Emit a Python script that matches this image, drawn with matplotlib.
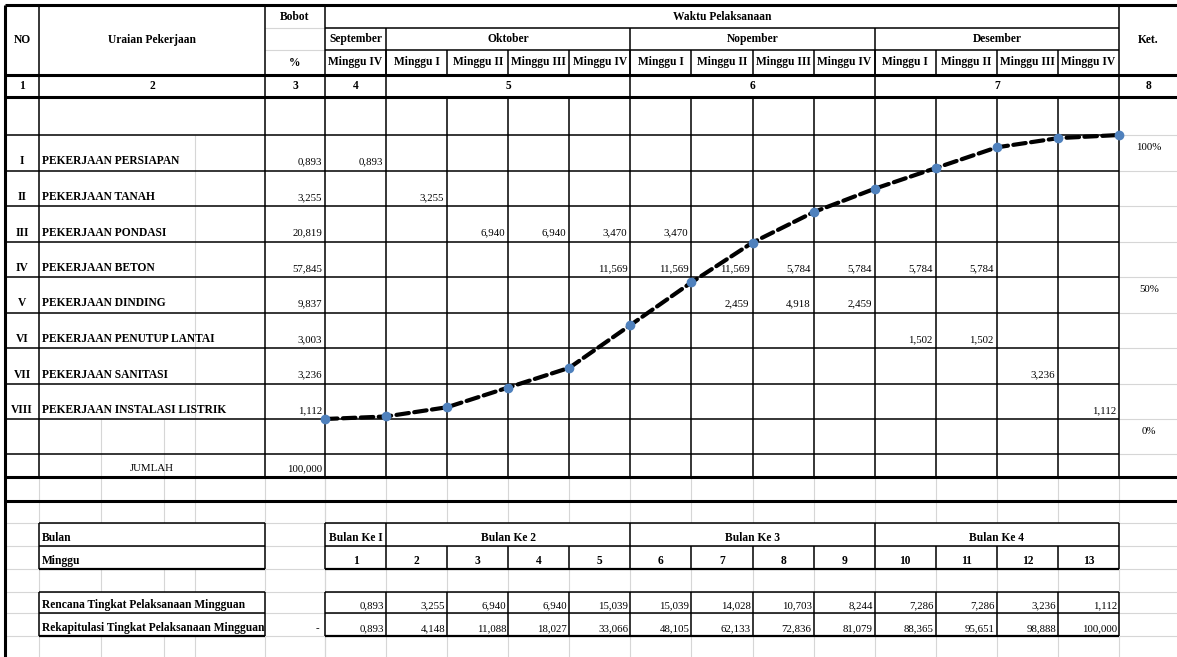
import matplotlib
matplotlib.use('Agg')
import matplotlib.pyplot as plt
import matplotlib.transforms as mtransforms
import numpy as np

plt.rcParams['font.family'] = ['Liberation Serif', 'DejaVu Serif']

# ---------------- data ----------------
no_romawi = ['I', 'II', 'III', 'IV', 'V', 'VI', 'VII', 'VIII']
uraian = ['PEKERJAAN PERSIAPAN', 'PEKERJAAN TANAH', 'PEKERJAAN PONDASI',
          'PEKERJAAN BETON', 'PEKERJAAN DINDING', 'PEKERJAAN PENUTUP LANTAI',
          'PEKERJAAN SANITASI', 'PEKERJAAN INSTALASI LISTRIK']
bobot = [0.893, 3.255, 20.819, 57.845, 9.837, 3.003, 3.236, 1.112]
jumlah_bobot = 100.000

# bobot per minggu untuk tiap pekerjaan {minggu ke: nilai}
jadwal = [
    {1: 0.893},
    {2: 3.255},
    {3: 6.940, 4: 6.940, 5: 3.470, 6: 3.470},
    {5: 11.569, 6: 11.569, 7: 11.569, 8: 5.784, 9: 5.784, 10: 5.784, 11: 5.784},
    {7: 2.459, 8: 4.918, 9: 2.459},
    {10: 1.502, 11: 1.502},
    {12: 3.236},
    {13: 1.112},
]

bulan = ['September', 'Oktober', 'Nopember', 'Desember']
bulan_ke = ['Bulan Ke I', 'Bulan Ke 2', 'Bulan Ke 3', 'Bulan Ke 4']
nomor_kolom = ['4', '5', '6', '7']
minggu_per_bulan = [1, 4, 4, 4]
minggu_label = ['Minggu IV',
                'Minggu I', 'Minggu II', 'Minggu III', 'Minggu IV',
                'Minggu I', 'Minggu II', 'Minggu III', 'Minggu IV',
                'Minggu I', 'Minggu II', 'Minggu III', 'Minggu IV']
minggu_ke = list(range(1, 14))

rencana = [0.893, 3.255, 6.940, 6.940, 15.039, 15.039, 14.028, 10.703,
           8.244, 7.286, 7.286, 3.236, 1.112]
rekap = [0.893, 4.148, 11.088, 18.027, 33.066, 48.105, 62.133, 72.836,
         81.079, 88.365, 95.651, 98.888, 100.000]

ket_values = [0, 50, 100]
ket_labels = ['0%', '50%', '100%']


def fmt(v):
    return f"{v:.3f}".replace('.', ',')


# ---------------- layout (pixels) ----------------
W, H = 1177, 657
X_L, X_NO, X_UR, X_BB, X_END, X_R = 5, 39, 265, 325, 1119, 1177
week_x = np.linspace(X_BB, X_END, len(minggu_ke) + 1)
HDR = [5, 28, 50, 75, 97]
ROW_TOP, ROW_H = 135, 35.5
row_y = ROW_TOP + ROW_H * np.arange(len(uraian) + 1)
Y_KOSONG, Y_JML, Y_SEP = 454, 477, 501
LOW = [523, 546, 569, 592, 613, 636, 657]

BLACK = '#000000'
GRID = '#d6d6d6'
LW, LW_THICK = 1.1, 2.2
BOLD = dict(fontsize=8.3, fontweight='bold', color='black')
NORM = dict(fontsize=7.8, color='black')

fig = plt.figure(figsize=(W / 100, H / 100), dpi=100)
ax = fig.add_axes([0, 0, 1, 1])
ax.set_xlim(0, W)
ax.set_ylim(H, 0)
ax.axis('off')


def hl(y, x0, x1, lw=LW, c=BLACK, z=3):
    ax.plot([x0, x1], [y, y], color=c, lw=lw, zorder=z, solid_capstyle='butt')


def vl(x, y0, y1, lw=LW, c=BLACK, z=3):
    ax.plot([x, x], [y0, y1], color=c, lw=lw, zorder=z, solid_capstyle='butt')


month_edges = np.concatenate([[0], np.cumsum(minggu_per_bulan)])

# ---- excel gridlines (light gray) ----
vl(195, row_y[0], row_y[-1], lw=0.8, c=GRID, z=1)
for gx in [101, 164, 195]:
    vl(gx, row_y[-1], Y_JML, lw=0.8, c=GRID, z=1)
# below the main table, gray lines only outside the summary boxes
for ya, yb in [(Y_JML, LOW[0]), (LOW[2], LOW[3]), (LOW[5], H)]:
    for gx in [X_NO, 101, 164, 195, X_UR, X_BB] + list(week_x):
        vl(gx, ya, yb, lw=0.8, c=GRID, z=1)
for gy in LOW[:-1]:
    hl(gy, X_L, X_R, lw=0.8, c=GRID, z=1)
hl(HDR[1], X_UR, X_BB, lw=0.8, c=GRID, z=1)
hl(HDR[2], X_UR, X_BB, lw=0.8, c=GRID, z=1)
for gy in row_y:
    hl(gy, X_END, X_R, lw=0.8, c=GRID, z=1)
hl(Y_KOSONG, X_END, X_R, lw=0.8, c=GRID, z=1)

# ---- header ----
hl(HDR[0], X_L, X_R, lw=LW_THICK)
hl(HDR[1], X_BB, X_END)
hl(HDR[2], X_BB, X_END)
hl(HDR[3], X_L, X_R, lw=LW_THICK)
hl(HDR[4], X_L, X_R, lw=LW_THICK)
vl(X_L, HDR[0], H, lw=LW_THICK)
for x in [X_NO, X_UR, X_BB, X_END]:
    vl(x, HDR[0], Y_JML)
for i in month_edges[1:-1]:
    vl(week_x[i], HDR[1], HDR[4])
for x in week_x[1:-1]:
    vl(x, HDR[2], HDR[3])
    vl(x, HDR[4], Y_JML)

ax.text((X_L + X_NO) / 2, (HDR[0] + HDR[3]) / 2, 'NO', ha='center', va='center', **BOLD)
ax.text((X_NO + X_UR) / 2, (HDR[0] + HDR[3]) / 2, 'Uraian Pekerjaan', ha='center', va='center', **BOLD)
ax.text((X_UR + X_BB) / 2, (HDR[0] + HDR[1]) / 2, 'Bobot', ha='center', va='center', **BOLD)
ax.text((X_UR + X_BB) / 2, (HDR[2] + HDR[3]) / 2, '%', ha='center', va='center', **BOLD)
ax.text((X_BB + X_END) / 2, (HDR[0] + HDR[1]) / 2, 'Waktu Pelaksanaan', ha='center', va='center', **BOLD)
ax.text((X_END + X_R) / 2, (HDR[0] + HDR[3]) / 2, 'Ket.', ha='center', va='center', **BOLD)
for i, nama in enumerate(bulan):
    xc = (week_x[month_edges[i]] + week_x[month_edges[i + 1]]) / 2
    ax.text(xc, (HDR[1] + HDR[2]) / 2, nama, ha='center', va='center', **BOLD)
    ax.text(xc, (HDR[3] + HDR[4]) / 2, nomor_kolom[i], ha='center', va='center', **BOLD)
for j, lab in enumerate(minggu_label):
    ax.text((week_x[j] + week_x[j + 1]) / 2, (HDR[2] + HDR[3]) / 2, lab,
            ha='center', va='center', **BOLD)
for xc, lab in [((X_L + X_NO) / 2, '1'), ((X_NO + X_UR) / 2, '2'),
                ((X_UR + X_BB) / 2, '3'), ((X_END + X_R) / 2, '8')]:
    ax.text(xc, (HDR[3] + HDR[4]) / 2, lab, ha='center', va='center', **BOLD)

# ---- body rows ----
for y in list(row_y) + [Y_KOSONG]:
    hl(y, X_L, X_END)
hl(Y_JML, X_L, X_R, lw=LW_THICK)
hl(Y_SEP, X_L, X_R, lw=LW_THICK)

for i in range(len(uraian)):
    yb = row_y[i + 1] - 6
    ax.text((X_L + X_NO) / 2, yb, no_romawi[i], ha='center', va='baseline', **BOLD)
    ax.text(X_NO + 3, yb, uraian[i], ha='left', va='baseline', **BOLD)
    ax.text(X_BB - 3, yb, fmt(bobot[i]), ha='right', va='baseline', **NORM)
    for mg, val in jadwal[i].items():
        ax.text(week_x[mg] - 3, yb, fmt(val), ha='right', va='baseline', **NORM)

ax.text((X_NO + X_UR) / 2, Y_JML - 6, 'JUMLAH', ha='center', va='baseline', **NORM)
ax.text(X_BB - 3, Y_JML - 6, fmt(jumlah_bobot), ha='right', va='baseline', **NORM)

# ---- lower summary tables ----
for k in [0, 3]:
    y0, ym, y1 = LOW[k], LOW[k + 1], LOW[k + 2]
    for x0, x1 in [(X_NO, X_UR), (X_BB, X_END)]:
        hl(y0, x0, x1)
        hl(ym, x0, x1)
        hl(y1, x0, x1, lw=1.6)
        vl(x0, y0, y1)
        vl(x1, y0, y1)
for i in month_edges[1:-1]:
    vl(week_x[i], LOW[0], LOW[1])
for x in week_x[1:-1]:
    vl(x, LOW[1], LOW[2])
    vl(x, LOW[3], LOW[5])

ax.text(X_NO + 3, LOW[1] - 5, 'Bulan', ha='left', va='baseline', **BOLD)
ax.text(X_NO + 3, LOW[2] - 5, 'Minggu', ha='left', va='baseline', **BOLD)
ax.text(X_NO + 3, LOW[4] - 5, 'Rencana Tingkat Pelaksanaan Mingguan', ha='left', va='baseline', **BOLD)
ax.text(X_NO + 3, LOW[5] - 5, 'Rekapitulasi Tingkat Pelaksanaan Mingguan', ha='left', va='baseline', **BOLD)
ax.text(X_BB - 6, LOW[5] - 5, '-', ha='right', va='baseline', **NORM)
for i, nama in enumerate(bulan_ke):
    xc = (week_x[month_edges[i]] + week_x[month_edges[i + 1]]) / 2
    ax.text(xc, LOW[1] - 5, nama, ha='center', va='baseline', **BOLD)
for j in range(len(minggu_ke)):
    ax.text((week_x[j] + week_x[j + 1]) / 2, LOW[2] - 5, str(minggu_ke[j]),
            ha='center', va='baseline', **BOLD)
    ax.text(week_x[j + 1] - 2, LOW[4] - 5, fmt(rencana[j]), ha='right', va='baseline', **NORM)
    ax.text(week_x[j + 1] - 2, LOW[5] - 5, fmt(rekap[j]), ha='right', va='baseline', **NORM)

# ---- kurva S ----
y0_px, y100_px = row_y[-1], row_y[0]
ax2 = fig.add_axes([X_BB / W, (H - y0_px) / H, (X_END - X_BB) / W, (y0_px - y100_px) / H])
ax2.set_xlim(0, len(minggu_ke))
ax2.set_ylim(0, 100)
ax2.axis('off')
ax2.patch.set_alpha(0)
kumulatif = [0] + rekap
ax2.plot(range(len(kumulatif)), kumulatif, color='black', lw=3,
         ls=(0, (3, 1.3)), dash_capstyle='round', zorder=4, clip_on=False)
ax2.plot(range(len(kumulatif)), kumulatif, ls='none', marker='o', ms=6,
         mfc='#4f81bd', mec='#4f81bd', zorder=5, clip_on=False)

trans = mtransforms.blended_transform_factory(ax.transData, ax2.transData)
trans = mtransforms.offset_copy(trans, fig=fig, y=-12, units='dots')
for v, lab in zip(ket_values, ket_labels):
    ax2.text((X_END + X_R) / 2 + 1, v, lab, transform=trans, ha='center', va='center', **NORM)

fig.savefig('out.png', dpi=100)
